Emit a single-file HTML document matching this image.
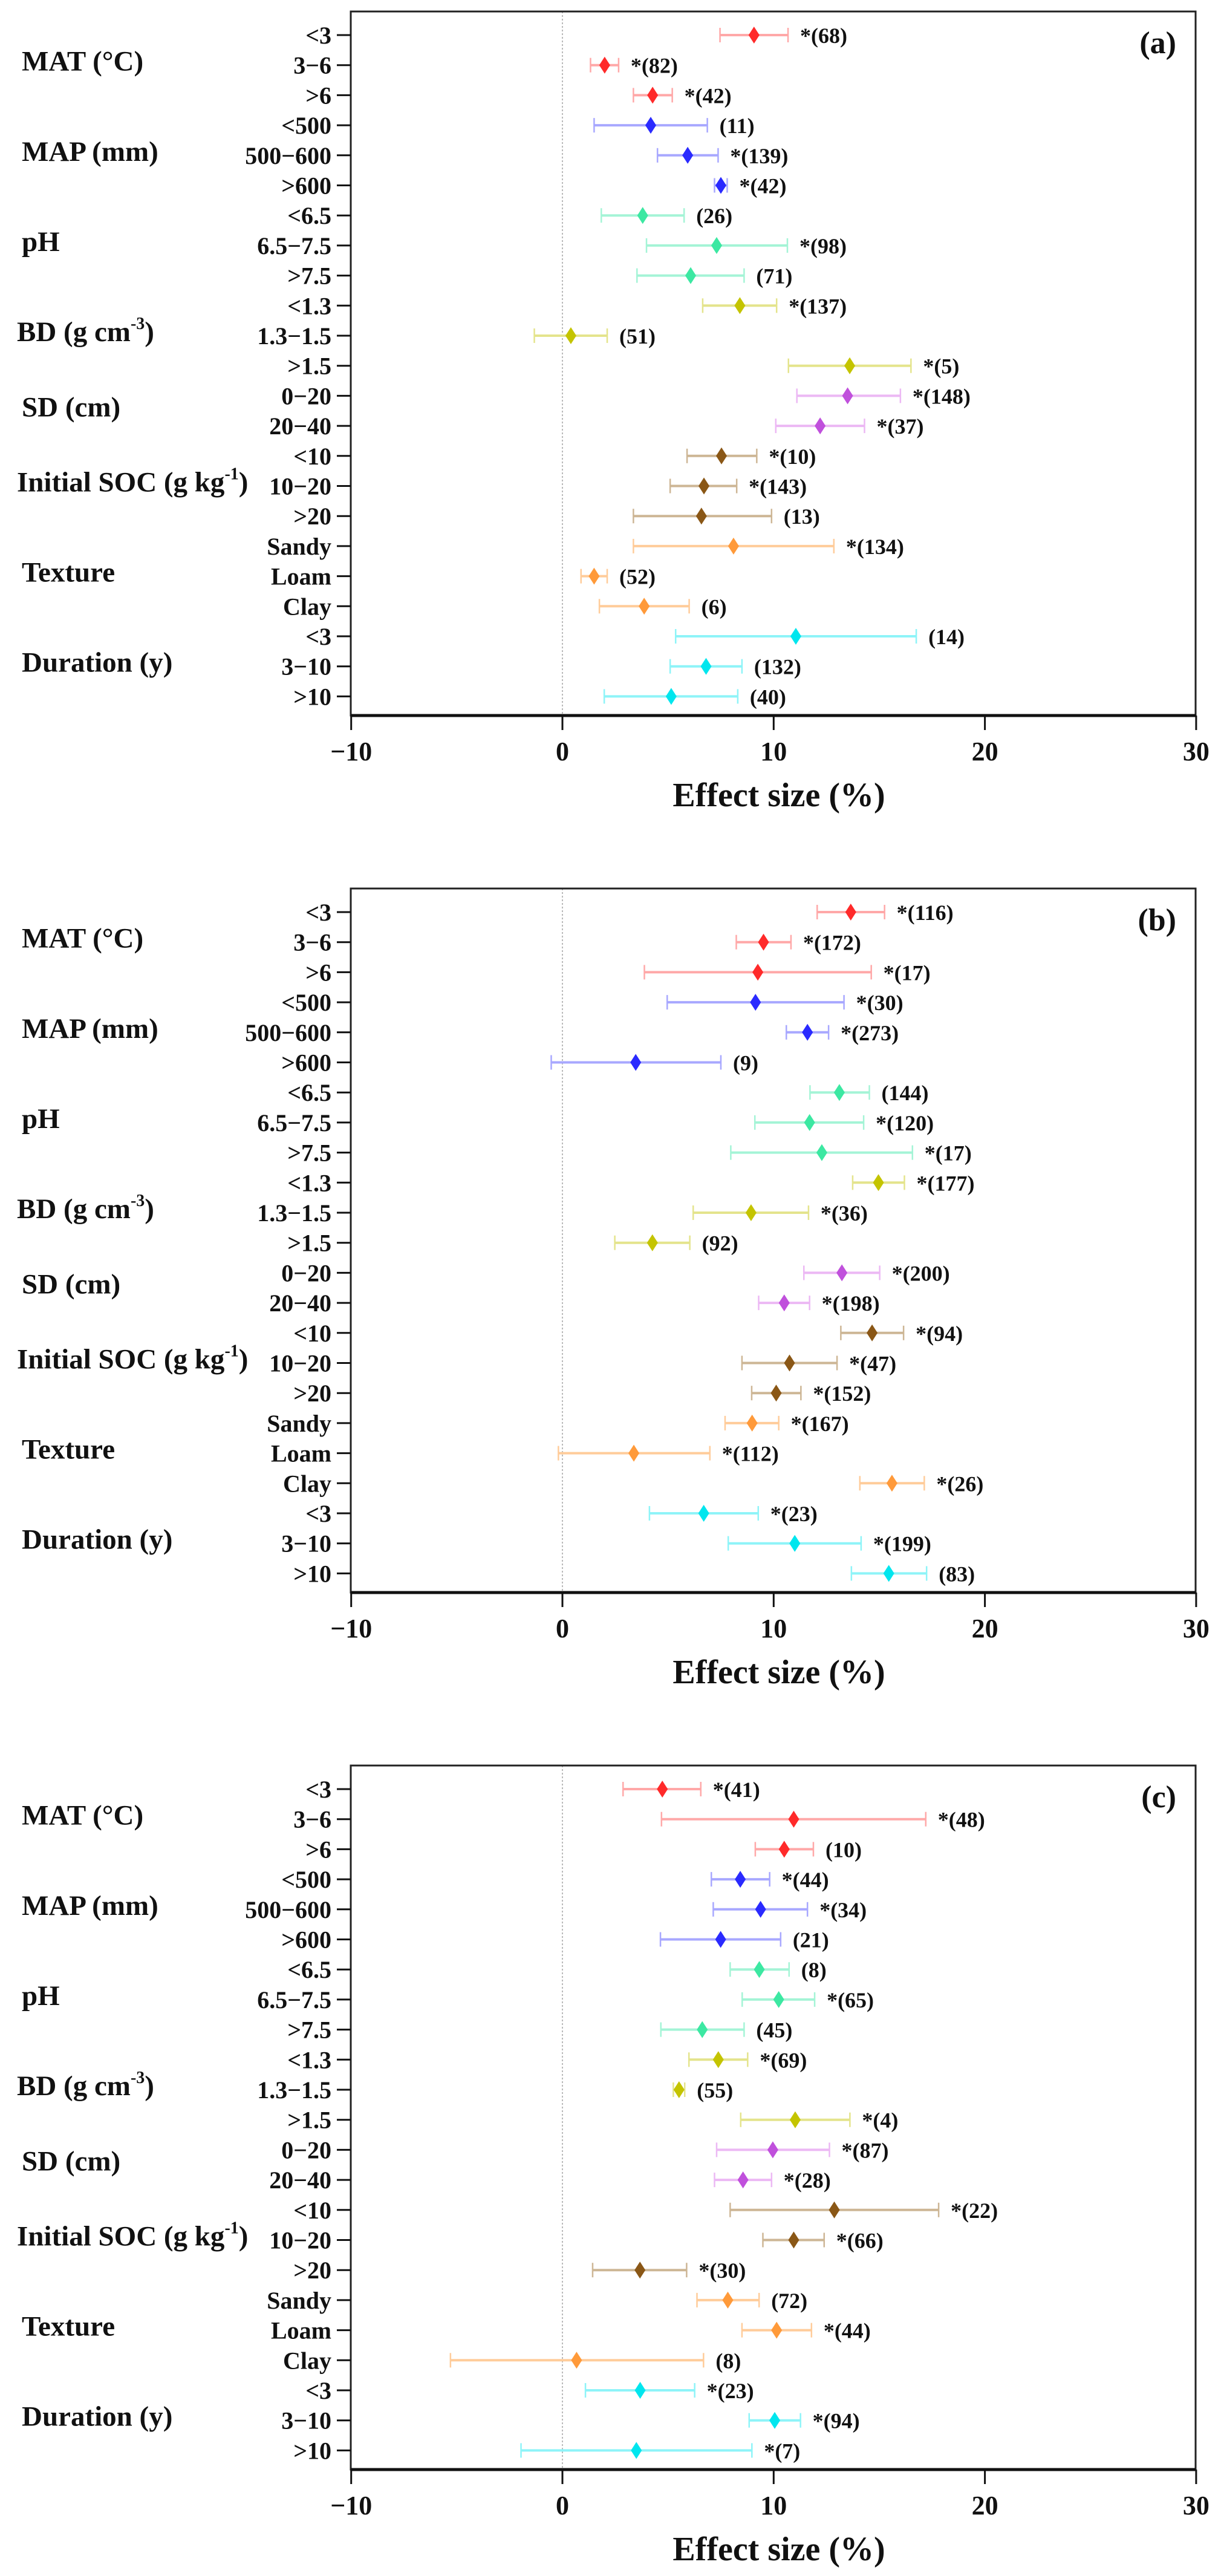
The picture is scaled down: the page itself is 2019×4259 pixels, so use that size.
<!DOCTYPE html>
<html><head><meta charset="utf-8"><style>
html,body{margin:0;padding:0;background:#fff;}
svg{display:block;font-family:"Liberation Serif","DejaVu Serif",serif;font-weight:bold;}
</style></head><body>
<svg id="chart" width="2019" height="4259" viewBox="0 0 2019 4259" xmlns="http://www.w3.org/2000/svg"></svg>
<script>
const categories = ["<3","3\u22126",">6","<500","500\u2212600",">600","<6.5","6.5\u22127.5",">7.5","<1.3","1.3\u22121.5",">1.5","0\u221220","20\u221240","<10","10\u221220",">20","Sandy","Loam","Clay","<3","3\u221210",">10"];
const groupNames = ["MAT (°C)","MAP (mm)","pH","BD (g cm","SD (cm)","Initial SOC (g kg","Texture","Duration (y)"];
const groupOfRow = [0,0,0,1,1,1,2,2,2,3,3,3,4,4,5,5,5,6,6,6,7,7,7];
const xTicks = [-10,0,10,20,30];
const panelLetters = ["(a)","(b)","(c)"];
// panel a
const meanA = [9.07,2.0,4.27,4.18,5.93,7.5,3.8,7.3,6.07,8.4,0.4,13.6,13.5,12.2,7.53,6.7,6.58,8.1,1.5,3.87,11.05,6.8,5.15];
const lowA  = [7.46,1.33,3.36,1.5,4.5,7.2,1.84,3.98,3.53,6.64,-1.33,10.7,11.1,10.1,5.9,5.1,3.36,3.36,0.88,1.75,5.36,5.1,1.98];
const highA = [10.68,2.66,5.2,6.86,7.37,7.8,5.76,10.65,8.6,10.14,2.12,16.5,16.0,14.3,9.2,8.25,9.9,12.85,2.12,6.0,16.75,8.5,8.3];
const labelA = ["*(68)","*(82)","*(42)","(11)","*(139)","*(42)","(26)","*(98)","(71)","*(137)","(51)","*(5)","*(148)","*(37)","*(10)","*(143)","(13)","*(134)","(52)","(6)","(14)","(132)","(40)"];
// panel b
const meanB = [13.65,9.52,9.25,9.14,11.6,3.47,13.11,11.7,12.28,14.96,8.93,4.26,13.23,10.5,14.66,10.75,10.12,8.98,3.38,15.6,6.69,11.0,15.45];
const lowB  = [12.06,8.23,3.88,4.96,10.6,-0.53,11.72,9.11,7.97,13.74,6.19,2.48,11.43,9.29,13.18,8.5,8.96,7.7,-0.19,14.08,4.12,7.85,13.68];
const highB = [15.25,10.82,14.62,13.33,12.6,7.5,14.53,14.26,16.57,16.19,11.65,6.03,15.02,11.7,16.15,13.0,11.29,10.24,6.98,17.13,9.27,14.14,17.24];
const labelB = ["*(116)","*(172)","*(17)","*(30)","*(273)","(9)","(144)","*(120)","*(17)","*(177)","*(36)","(92)","*(200)","*(198)","*(94)","*(47)","*(152)","*(167)","*(112)","*(26)","*(23)","*(199)","(83)"];
// panel c
const meanC = [4.73,10.95,10.5,8.42,9.38,7.49,9.32,10.24,6.62,7.38,5.52,11.02,9.96,8.55,12.87,10.95,3.67,7.83,10.14,0.67,3.68,10.05,3.5];
const lowC  = [2.87,4.69,9.13,7.05,7.14,4.64,7.94,8.51,4.66,5.99,5.25,8.44,7.3,7.2,7.94,9.49,1.43,6.37,8.5,-5.3,1.09,8.84,-1.96];
const highC = [6.55,17.2,11.88,9.81,11.6,10.33,10.73,11.94,8.6,8.77,5.79,13.61,12.64,9.9,17.81,12.39,5.88,9.31,11.79,6.68,6.26,11.27,8.97];
const labelC = ["*(41)","*(48)","(10)","*(44)","*(34)","(21)","(8)","*(65)","(45)","*(69)","(55)","*(4)","*(87)","*(28)","*(22)","*(66)","*(30)","(72)","*(44)","(8)","*(23)","*(94)","*(7)"];

const markerColors = ["#ff2a2a","#2a2aff","#3ce8a2","#c4c400","#c050dc","#8a5716","#ff9a3a","#00e6ee"];
const barColors = ["#ffa8a8","#a8a8ff","#a4f4d6","#e4e48c","#ecb8f4","#cdb695","#ffcc9a","#8ef4f8"];

const NS="http://www.w3.org/2000/svg";
const svg=document.getElementById('chart');
const X0=580,X1=1977,T0=19,B0=1183,ROW0=58,ROWH=49.7;
function xs(v){return 930+(v)*34.93;}
function mk(tag,attrs,parent){const e=document.createElementNS(NS,tag);for(const k in attrs)e.setAttribute(k,attrs[k]);(parent||svg).appendChild(e);return e;}

const panels=[[meanA,lowA,highA,labelA],[meanB,lowB,highB,labelB],[meanC,lowC,highC,labelC]];
panels.forEach((p,pi)=>{
  const off=pi*1450;
  const g=mk('g',{});
  
  
  const ys=i=>off+ROW0+i*ROWH;
  // zero line
  const z=mk('line',{x1:xs(0),x2:xs(0),y1:off+T0,y2:off+B0,stroke:'#bbb','stroke-width':2,'stroke-dasharray':'3,3'},g);
  
  
  // frame
  const fr=mk('rect',{x:X0,y:off+T0,width:X1-X0,height:B0-T0,fill:'none',stroke:'#222','stroke-width':3},g);
  
  
  const xa=mk('line',{x1:X0,x2:X1,y1:off+B0,y2:off+B0,stroke:'#111','stroke-width':5},g);
  
  
  // x ticks
  xTicks.forEach(t=>{
    const tl=mk('line',{x1:xs(t),x2:xs(t),y1:off+B0,y2:off+B0+24,stroke:'#111','stroke-width':3},g);
    
    
    const tx=mk('text',{x:xs(t),y:off+1257,'font-size':44,'text-anchor':'middle',fill:'#111'},g);
    tx.textContent=t<0?'\u2212'+Math.abs(t):String(t);
    
    
  });
  const at=mk('text',{x:1288,y:off+1333,'font-size':56,'text-anchor':'middle',fill:'#111'},g);
  at.textContent='Effect size (%)';
  
  
  const pl=mk('text',{x:1945,y:off+88,'font-size':52,'text-anchor':'end',fill:'#111'},g);
  pl.textContent=panelLetters[pi];
  
  
  // y ticks and labels
  categories.forEach((c,i)=>{
    const y=ys(i);
    const tl=mk('line',{x1:X0-23,x2:X0,y1:y,y2:y,stroke:'#111','stroke-width':3},g);
    
    
    const tx=mk('text',{x:548,y:y+14,'font-size':40,'text-anchor':'end',fill:'#111'},g);
    tx.textContent=c;
    
    
  });
  // group labels
  groupNames.forEach((gn,gi)=>{
    const rows=groupOfRow.map((v,i)=>v===gi?i:-1).filter(i=>i>=0);
    const yc=(ys(rows[0])+ys(rows[rows.length-1]))/2-7;
    const tx=mk('text',{x:gi===3||gi===5?28:36,y:yc+16,'font-size':47,fill:'#111'},g);
    tx.textContent=gn;
    if(gi===3||gi===5){
      const s=mk('tspan',{'font-size':28,dy:-20},tx);s.textContent=gi===3?'-3':'-1';
      const s2=mk('tspan',{dy:20},tx);s2.textContent=')';
    }
    
    
  });
  // marks
  const [m,lo,hi,lab]=p;
  m.forEach((v,i)=>{
    const y=ys(i),gi=groupOfRow[i];
    const row=mk('g',{},g);
    
    
    const bl=mk('line',{x1:xs(lo[i]),x2:xs(hi[i]),y1:y,y2:y,stroke:barColors[gi],'stroke-width':4},row);
    
    
    [lo[i],hi[i]].forEach(e=>{
      const cp=mk('line',{x1:xs(e),x2:xs(e),y1:y-12,y2:y+12,stroke:barColors[gi],'stroke-width':2.5},row);
      
      
    });
    const cx=xs(v);
    const d=mk('polygon',{points:`${cx},${y-14} ${cx+9},${y} ${cx},${y+14} ${cx-9},${y}`,fill:markerColors[gi]},row);
    
    
    const t=mk('text',{x:xs(hi[i])+20,y:y+13,'font-size':36,fill:'#111'},row);
    t.textContent=lab[i];
    
    
  });
});
</script>
</body></html>
